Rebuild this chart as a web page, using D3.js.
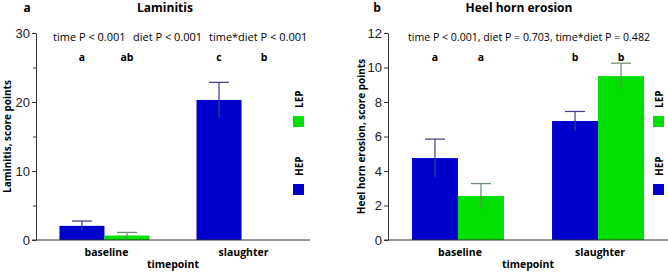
<!DOCTYPE html>
<html>
<head>
<meta charset="utf-8">
<script src="https://cdn.jsdelivr.net/npm/d3@7"></script>
<style>
  body { margin: 0; background: #fff; }
  svg { display: block; font-family: "Open Sans", "Noto Sans", sans-serif; }
  .axis path, .axis line { stroke: #333; }
  .axis text { font-size: 13px; fill: #222; }
</style>
</head>
<body>
<div id="chart"></div>
<script>
// shared categories
const timepoints = ["baseline", "slaughter"];
const diets = ["HEP", "LEP"];
const dietColors = ["#0000cd", "#00e000"];
const errColors = ["#3c3c80", "#6a8a6a"];

// panel a: laminitis
const lamHEP = [2.05, 20.3];
const lamLEP = [0.65, 0.0];
const lamHEPerr = [0.7, 2.55];
const lamLEPerr = [0.45, 0.0];
const lamLetters = ["a", "ab", "c", "b"];
const lamTicks = [0, 10, 20, 30];
const lamMinor = [5, 15, 25];

// panel b: heel horn erosion
const heelHEP = [4.75, 6.9];
const heelLEP = [2.55, 9.5];
const heelHEPerr = [1.1, 0.55];
const heelLEPerr = [0.72, 0.75];
const heelLetters = ["a", "a", "b", "b"];
const heelTicks = [0, 2, 4, 6, 8, 10, 12];

const svg = d3.select("#chart").append("svg")
    .attr("width", 668)
    .attr("height", 272);

function drawPanel(p) {
    var g = svg.append("g");
    var y = d3.scaleLinear().domain([0, p.max]).range([240, 33]);
    var x0 = d3.scaleBand().domain(timepoints)
        .range([p.left, p.right]).paddingInner(0.343).paddingOuter(0.171);
    var x1 = d3.scaleBand().domain(diets).range([0, x0.bandwidth()]);

    // rows: one per bar
    var rows = [];
    timepoints.forEach(function(t, i) {
        rows.push({t: t, d: "HEP", v: p.hep[i], e: p.hepErr[i], k: 0});
        rows.push({t: t, d: "LEP", v: p.lep[i], e: p.lepErr[i], k: 1});
    });
    rows.forEach(function(r, i) { r.letter = p.letters[i]; });
    var cx = function(r) { return x0(r.t) + x1(r.d) + x1.bandwidth() / 2; };

    // y axis
    g.append("g").attr("class", "axis")
        .attr("transform", "translate(" + p.left + ",0)")
        .call(d3.axisLeft(y).tickValues(p.ticks).tickSize(4).tickSizeOuter(0).tickPadding(2));
    if (p.minor) {
        g.append("g").attr("class", "axis")
            .attr("transform", "translate(" + p.left + ",0)")
            .call(d3.axisLeft(y).tickValues(p.minor).tickSize(3).tickSizeOuter(0).tickFormat(""))
            .select(".domain").remove();
    }

    // bars
    g.selectAll(".bar").data(rows).enter().append("rect")
        .attr("x", function(r) { return x0(r.t) + x1(r.d); })
        .attr("width", x1.bandwidth())
        .attr("y", function(r) { return y(r.v); })
        .attr("height", function(r) { return y(0) - y(r.v); })
        .attr("fill", function(r) { return dietColors[r.k]; });

    // error bars
    var eb = g.selectAll(".err").data(rows.filter(function(r) { return r.e > 0; })).enter()
        .append("g").attr("stroke", function(r) { return errColors[r.k]; })
        .attr("stroke-width", 1.2);
    eb.append("line")
        .attr("x1", cx).attr("x2", cx)
        .attr("y1", function(r) { return y(r.v - r.e); })
        .attr("y2", function(r) { return y(r.v + r.e); });
    eb.append("line")
        .attr("x1", function(r) { return cx(r) - 10; })
        .attr("x2", function(r) { return cx(r) + 10; })
        .attr("y1", function(r) { return y(r.v + r.e); })
        .attr("y2", function(r) { return y(r.v + r.e); });

    // x axis line
    g.append("line")
        .attr("x1", p.left - 4).attr("x2", p.axisEnd)
        .attr("y1", y(0)).attr("y2", y(0))
        .attr("stroke", "#333");

    // letters
    g.selectAll(".letter").data(rows).enter().append("text")
        .attr("x", cx).attr("y", 61)
        .attr("text-anchor", "middle")
        .attr("font-size", "10.5px").attr("font-weight", "bold")
        .text(function(r) { return r.letter; });

    // category labels
    g.selectAll(".cat").data(timepoints).enter().append("text")
        .attr("x", function(t) { return x0(t) + x0.bandwidth() / 2 + 2; })
        .attr("y", 256)
        .attr("text-anchor", "middle")
        .attr("font-size", "10.5px").attr("font-weight", "bold")
        .text(function(t) { return t; });
    g.append("text")
        .attr("x", (p.left + p.axisEnd) / 2).attr("y", 268)
        .attr("text-anchor", "middle")
        .attr("font-size", "10.5px").attr("font-weight", "bold")
        .text("timepoint");

    // y label
    g.append("text")
        .attr("transform", "translate(" + p.ylabX + "," + ((y(0) + y(p.max)) / 2) + ") rotate(-90)")
        .attr("text-anchor", "middle")
        .attr("font-size", "10px").attr("font-weight", "bold")
        .text(p.ylabel);

    // titles
    g.append("text").attr("x", p.tagX).attr("y", 12)
        .attr("text-anchor", "middle")
        .attr("font-size", "12px").attr("font-weight", "bold").text(p.tag);
    g.append("text").attr("x", p.titleX).attr("y", 12)
        .attr("text-anchor", "middle")
        .attr("font-size", "12px").attr("font-weight", "bold").text(p.title);

    // stats
    p.stats.forEach(function(s) {
        g.append("text").attr("x", s[0]).attr("y", 41)
            .attr("text-anchor", s[2])
            .attr("font-size", s[3] + "px")
            .style("white-space", "pre")
            .text(s[1]);
    });

    // legend (LEP above HEP)
    var leg = [{name: "LEP", k: 1, y: 116}, {name: "HEP", k: 0, y: 184}];
    leg.forEach(function(l) {
        g.append("rect").attr("x", p.legX).attr("y", l.y)
            .attr("width", 11).attr("height", 11)
            .attr("fill", dietColors[l.k]);
        g.append("text")
            .attr("transform", "translate(" + (p.legX + 9.5) + "," + (l.y - 8) + ") rotate(-90)")
            .attr("font-size", "10px").attr("font-weight", "bold")
            .text(l.name);
    });
}

drawPanel({
    max: 30, left: 36, right: 310, axisEnd: 310,
    hep: lamHEP, lep: lamLEP, hepErr: lamHEPerr, lepErr: lamLEPerr,
    letters: lamLetters, ticks: lamTicks, minor: lamMinor,
    ylabel: "Laminitis, score points", ylabX: 11,
    tag: "a", tagX: 27, title: "Laminitis", titleX: 165,
    stats: [[53, "time P < 0.001", "start", 11], [133, "diet P < 0.001", "start", 11], [209, "time*diet P < 0.001", "start", 11]],
    legX: 293
});

drawPanel({
    max: 12, left: 388, right: 668, axisEnd: 668,
    hep: heelHEP, lep: heelLEP, hepErr: heelHEPerr, lepErr: heelLEPerr,
    letters: heelLetters, ticks: heelTicks, minor: null,
    ylabel: "Heel horn erosion, score points", ylabX: 365,
    tag: "b", tagX: 377, title: "Heel horn erosion", titleX: 519,
    stats: [[529, "time P < 0.001, diet P = 0.703, time*diet P = 0.482", "middle", 10.6]],
    legX: 653
});
</script>
</body>
</html>
